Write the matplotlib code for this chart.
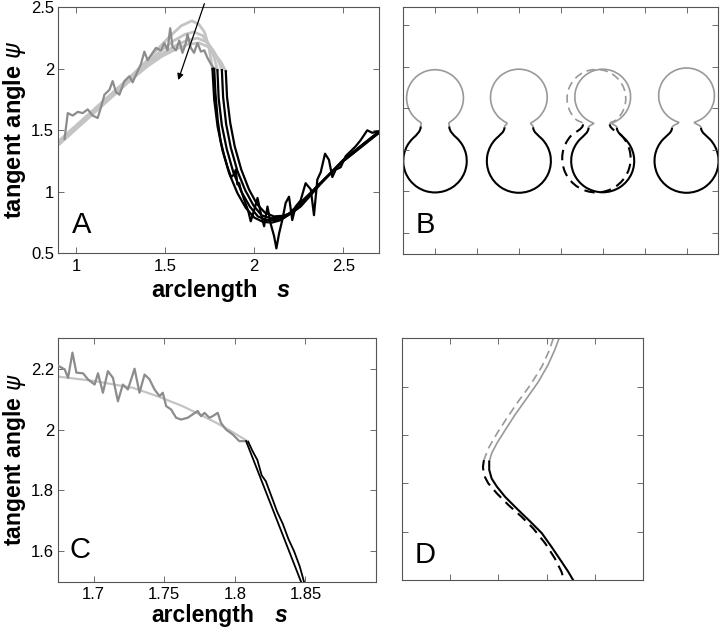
import numpy as np
import matplotlib.pyplot as plt
from matplotlib.path import Path
from matplotlib.patches import PathPatch

plt.rcParams['font.family'] = ['Liberation Sans', 'DejaVu Sans']

# ---------------- Panel A data ----------------
# smooth fits: gray part (upper bulb) then black part (lower bulb)
gray_fit_s = [
    [0.9, 1.0, 1.1, 1.2, 1.3, 1.4, 1.47, 1.53, 1.59, 1.65, 1.69, 1.72, 1.745, 1.765],
    [0.9, 1.0, 1.1, 1.2, 1.3, 1.4, 1.48, 1.55, 1.61, 1.66, 1.71, 1.75, 1.775, 1.793],
    [0.9, 1.0, 1.1, 1.2, 1.3, 1.4, 1.48, 1.56, 1.62, 1.68, 1.73, 1.77, 1.797, 1.818],
    [0.9, 1.0, 1.1, 1.2, 1.3, 1.4, 1.48, 1.56, 1.63, 1.69, 1.74, 1.78, 1.815, 1.84],
]
gray_fit_psi = [
    [1.41, 1.54, 1.67, 1.80, 1.93, 2.07, 2.18, 2.27, 2.35, 2.39, 2.36, 2.30, 2.18, 2.00],
    [1.40, 1.53, 1.66, 1.79, 1.92, 2.05, 2.15, 2.23, 2.28, 2.30, 2.27, 2.19, 2.09, 1.99],
    [1.39, 1.52, 1.65, 1.78, 1.91, 2.04, 2.12, 2.19, 2.23, 2.25, 2.22, 2.15, 2.07, 1.99],
    [1.38, 1.51, 1.64, 1.77, 1.90, 2.02, 2.10, 2.16, 2.20, 2.21, 2.18, 2.12, 2.05, 1.98],
]
black_fit_s = [
    [1.765, 1.775, 1.794, 1.821, 1.859, 1.905, 1.952, 2.0, 2.05, 2.1, 2.15, 2.2, 2.35, 2.5, 2.7],
    [1.793, 1.80, 1.818, 1.845, 1.882, 1.928, 1.975, 2.02, 2.07, 2.12, 2.17, 2.22, 2.35, 2.5, 2.7],
    [1.818, 1.825, 1.842, 1.868, 1.905, 1.95, 1.995, 2.04, 2.09, 2.14, 2.19, 2.24, 2.35, 2.5, 2.7],
    [1.84, 1.847, 1.865, 1.89, 1.927, 1.97, 2.015, 2.06, 2.11, 2.16, 2.21, 2.26, 2.37, 2.5, 2.7],
]
black_fit_psi = [
    [2.00, 1.75, 1.53, 1.34, 1.15, 0.99, 0.87, 0.79, 0.755, 0.75, 0.77, 0.83, 1.04, 1.25, 1.48],
    [1.99, 1.76, 1.54, 1.35, 1.16, 1.00, 0.88, 0.80, 0.77, 0.77, 0.79, 0.84, 1.04, 1.25, 1.48],
    [1.99, 1.77, 1.55, 1.36, 1.17, 1.01, 0.89, 0.81, 0.785, 0.79, 0.81, 0.86, 1.04, 1.26, 1.49],
    [1.98, 1.77, 1.56, 1.37, 1.18, 1.02, 0.90, 0.83, 0.80, 0.805, 0.83, 0.88, 1.06, 1.26, 1.49],
]

# measured (noisy) tangent angle
data_gray_s = [0.935, 0.953, 0.981, 1.009, 1.037, 1.065, 1.093, 1.121, 1.140, 1.159,
               1.187, 1.205, 1.224, 1.243, 1.271, 1.299, 1.317, 1.345, 1.364, 1.383,
               1.401, 1.429, 1.448, 1.476, 1.495, 1.513, 1.528, 1.541, 1.560, 1.579,
               1.597, 1.616, 1.625, 1.644, 1.662, 1.681, 1.700, 1.719, 1.737, 1.756, 1.775]
data_gray_psi = [1.43, 1.64, 1.62, 1.65, 1.64, 1.67, 1.62, 1.60, 1.69, 1.79,
                 1.83, 1.90, 1.81, 1.79, 1.90, 1.94, 1.89, 1.98, 2.04, 2.14,
                 2.07, 2.13, 2.17, 2.15, 2.21, 2.15, 2.33, 2.18, 2.15, 2.23,
                 2.13, 2.21, 2.28, 2.17, 2.13, 2.21, 2.14, 2.15, 2.09, 2.04, 2.00]
data_black_s = [1.775, 1.782, 1.795, 1.81, 1.83, 1.85, 1.87, 1.885, 1.896, 1.905,
                1.915, 1.924, 1.94, 1.952, 1.965, 1.98, 1.999, 2.018, 2.036, 2.055,
                2.074, 2.092, 2.111, 2.124, 2.139, 2.157, 2.176, 2.195, 2.213, 2.232,
                2.26, 2.288, 2.317, 2.335, 2.354, 2.373, 2.397, 2.419, 2.438, 2.457,
                2.485, 2.513, 2.541, 2.569, 2.597, 2.634, 2.662, 2.69]
data_black_psi = [2.00, 1.80, 1.58, 1.42, 1.30, 1.20, 1.12, 1.14, 1.18, 1.06,
                  1.07, 1.02, 0.95, 0.90, 0.85, 0.76, 0.85, 0.95, 0.83, 0.72,
                  0.88, 0.74, 0.64, 0.54, 0.66, 0.77, 0.91, 0.96, 0.77, 0.88,
                  0.93, 1.07, 1.02, 0.81, 1.10, 1.16, 1.31, 1.26, 1.12, 1.18,
                  1.20, 1.29, 1.33, 1.37, 1.42, 1.50, 1.48, 1.49]

# ---------------- Panel B data (shape outlines) ----------------
shape_cx = [1.0, 3.0, 5.0, 7.0]
shape_top_cy = [3.245, 3.26, 3.27, 3.30]
shape_top_r = [0.678, 0.676, 0.665, 0.665]
shape_neck_y = [2.56, 2.54, 2.53, 2.53]
shape_neck_hw = [0.341, 0.342, 0.338, 0.346]
shape_bot_cy = [1.731, 1.73, 1.73, 1.73]
shape_bot_r = [0.757, 0.764, 0.752, 0.764]
# dashed outline overlaid on the third shape
dash_shape = dict(cx=4.85, top_cy=3.23, top_r=0.70, neck_y=2.61,
                  neck_hw=0.32, bot_cy=1.79, bot_r=0.816)

# ---------------- Panel C data ----------------
c_data_s = [1.6752, 1.6795, 1.6819, 1.685, 1.6878, 1.6925, 1.696, 1.7007, 1.7031,
            1.7066, 1.7101, 1.7137, 1.7172, 1.7207, 1.7243, 1.729, 1.7325, 1.7361,
            1.7396, 1.7431, 1.7467, 1.749, 1.7514, 1.7549, 1.7584, 1.762, 1.7667,
            1.7702, 1.7737, 1.7761, 1.7785, 1.782, 1.7843, 1.7879, 1.7902, 1.7938,
            1.7985, 1.8032, 1.808]
c_data_psi = [2.209, 2.198, 2.170, 2.253, 2.187, 2.185, 2.165, 2.148, 2.185,
              2.121, 2.192, 2.170, 2.093, 2.148, 2.132, 2.200, 2.121, 2.181,
              2.165, 2.132, 2.110, 2.121, 2.077, 2.066, 2.039, 2.033, 2.039,
              2.050, 2.061, 2.044, 2.055, 2.039, 2.044, 2.055, 2.022, 2.000,
              1.984, 1.962, 1.962]
c_fit_s = [1.675, 1.70, 1.728, 1.745, 1.763, 1.775, 1.787, 1.798, 1.809]
c_fit_psi = [2.174, 2.16, 2.137, 2.11, 2.077, 2.05, 2.022, 1.993, 1.962]
c_black_fit_s = [1.808, 1.8469]
c_black_fit_psi = [1.962, 1.50]
c_black_data_s = [1.8095, 1.8125, 1.816, 1.819, 1.822, 1.826, 1.83, 1.834, 1.838,
                  1.842, 1.846, 1.849]
c_black_data_psi = [1.96, 1.93, 1.90, 1.85, 1.83, 1.78, 1.73, 1.69, 1.64, 1.60,
                    1.55, 1.50]

# ---------------- Panel D data (zoom on neck) ----------------
d_gray_x = [3.26, 3.17, 3.03, 2.83, 2.59, 2.34, 2.14, 1.97, 1.86, 1.81]
d_gray_y = [5.0, 4.76, 4.45, 4.10, 3.76, 3.41, 3.10, 2.83, 2.62, 2.45]
d_black_x = [1.81, 1.81, 1.86, 1.97, 2.14, 2.38, 2.66, 2.90, 3.10, 3.31, 3.45, 3.55]
d_black_y = [2.45, 2.28, 2.10, 1.93, 1.72, 1.48, 1.21, 0.97, 0.69, 0.38, 0.17, 0.0]
d_gray_dash_x = [3.14, 3.06, 2.90, 2.66, 2.41, 2.17, 1.97, 1.79, 1.70]
d_gray_dash_y = [5.0, 4.76, 4.41, 4.03, 3.69, 3.34, 3.03, 2.72, 2.48]
d_black_dash_x = [1.70, 1.68, 1.70, 1.79, 1.97, 2.21, 2.48, 2.72, 2.97, 3.17, 3.31, 3.36]
d_black_dash_y = [2.48, 2.34, 2.17, 2.00, 1.79, 1.55, 1.31, 1.07, 0.76, 0.45, 0.17, 0.0]

GRAY_FIT = '#c4c4c4'
GRAY_DATA = '#8c8c8c'
GRAY_SHAPE = '#999999'
DASH = (0, (5, 3))


def style_axes(ax):
    for sp in ax.spines.values():
        sp.set_color('#555555')
        sp.set_linewidth(0.8)
    ax.tick_params(direction='in', top=True, right=True, length=4, width=0.6,
                   color='#555555', labelsize=12)
    ax.tick_params(axis='x', pad=4)
    ax.tick_params(axis='y', pad=3)


def add_labels(ax, xbase, size=17):
    ax.text(0.455, xbase, 'arclength', transform=ax.transAxes, ha='center',
            va='baseline', fontsize=size, fontweight='bold')
    ax.text(0.70, xbase, 's', transform=ax.transAxes, ha='center',
            va='baseline', fontsize=size, fontweight='bold', style='italic')
    ax.text(-0.137, 0.5, 'tangent angle $\\psi$', transform=ax.transAxes,
            rotation=90, ha='center', va='center', fontsize=size,
            fontweight='bold')


def shape_path(cx, top_cy, top_r, neck_y, neck_hw, bot_cy, bot_r):
    """Gray (upper bulb) and black (lower bulb) outlines as bezier paths."""
    nr = np.array([cx + neck_hw, neck_y])
    nl = np.array([cx - neck_hw, neck_y])
    # upper bulb
    q = np.clip((neck_y + 0.12 - top_cy) / top_r, -0.95, 0.95)
    t = np.degrees(np.arcsin(q))
    arc = Path.arc(t, 180 - t)
    av = arc.vertices * top_r + [cx, top_cy]
    tr = np.array([-np.sin(np.radians(t)), np.cos(np.radians(t))])
    tl = np.array([-np.sin(np.radians(180 - t)), np.cos(np.radians(180 - t))])
    k, k2 = 0.07, 0.09
    verts = [nr, nr + [0, k], av[0] - k2 * tr, av[0]] + list(av[1:]) + \
        [av[-1] + k2 * tl, nl + [0, k], nl]
    codes = [Path.MOVETO] + [Path.CURVE4] * 3 + list(arc.codes[1:]) + [Path.CURVE4] * 3
    gray = Path(verts, codes)
    # lower bulb
    q = np.clip((neck_y - 0.28 - bot_cy) / bot_r, -0.95, 0.95)
    b = np.degrees(np.arcsin(q))
    arc = Path.arc(180 - b, 360 + b)
    bv = arc.vertices * bot_r + [cx, bot_cy]
    tl = np.array([-np.sin(np.radians(180 - b)), np.cos(np.radians(180 - b))])
    tr = np.array([-np.sin(np.radians(b)), np.cos(np.radians(b))])
    k, k2 = 0.12, 0.12
    verts = [nl, nl + [0, -k], bv[0] - k2 * tl, bv[0]] + list(bv[1:]) + \
        [bv[-1] + k2 * tr, nr + [0, -k], nr]
    codes = [Path.MOVETO] + [Path.CURVE4] * 3 + list(arc.codes[1:]) + [Path.CURVE4] * 3
    black = Path(verts, codes)
    return gray, black


fig = plt.figure(figsize=(7.2, 6.32), dpi=100)
axA = fig.add_axes([0.081, 0.5992, 0.4454, 0.3892])
axB = fig.add_axes([0.5597, 0.5981, 0.4375, 0.3908])
axC = fig.add_axes([0.081, 0.0796, 0.4412, 0.3851])
axD = fig.add_axes([0.5583, 0.0823, 0.3347, 0.3824])

# ---- A ----
for s, p in zip(gray_fit_s, gray_fit_psi):
    axA.plot(s, p, color=GRAY_FIT, lw=2.0, zorder=2)
axA.plot(data_gray_s, data_gray_psi, color=GRAY_DATA, lw=1.6, zorder=3)
for s, p in zip(black_fit_s, black_fit_psi):
    axA.plot(s, p, color='black', lw=1.6, zorder=3)
axA.plot(data_black_s, data_black_psi, color='black', lw=1.6, zorder=4)
axA.annotate('', xy=(1.573, 1.909), xytext=(1.72, 2.53),
             arrowprops=dict(arrowstyle='-|>', color='black', lw=0.9,
                             mutation_scale=9, shrinkA=0, shrinkB=0),
             annotation_clip=False, zorder=5)
axA.set_xlim(0.9, 2.7)
axA.set_ylim(0.5, 2.5)
axA.set_xticks([1, 1.5, 2, 2.5])
axA.set_xticklabels(['1', '1.5', '2', '2.5'])
axA.set_yticks([0.5, 1, 1.5, 2, 2.5])
axA.set_yticklabels(['0.5', '1', '1.5', '2', '2.5'])
style_axes(axA)
add_labels(axA, -0.178)
axA.text(0.074, 0.115, 'A', transform=axA.transAxes, ha='center',
         va='center', fontsize=21)

# ---- B ----
g, b = shape_path(dash_shape['cx'], dash_shape['top_cy'], dash_shape['top_r'],
                  dash_shape['neck_y'], dash_shape['neck_hw'],
                  dash_shape['bot_cy'], dash_shape['bot_r'])
axB.add_patch(PathPatch(g, fill=False, edgecolor=GRAY_SHAPE, lw=1.2, linestyle=DASH))
axB.add_patch(PathPatch(b, fill=False, edgecolor='black', lw=1.5, linestyle=DASH))
for i in range(len(shape_cx)):
    g, b = shape_path(shape_cx[i], shape_top_cy[i], shape_top_r[i],
                      shape_neck_y[i], shape_neck_hw[i], shape_bot_cy[i],
                      shape_bot_r[i])
    axB.add_patch(PathPatch(g, fill=False, edgecolor=GRAY_SHAPE, lw=1.2))
    axB.add_patch(PathPatch(b, fill=False, edgecolor='black', lw=1.5))
axB.set_xlim(0.236, 7.75)
axB.set_ylim(-0.505, 5.43)
axB.set_xticks(range(1, 8))
axB.set_yticks(range(0, 6))
axB.set_xticklabels([])
axB.set_yticklabels([])
style_axes(axB)
axB.text(0.07, 0.117, 'B', transform=axB.transAxes, ha='center',
         va='center', fontsize=21)

# ---- C ----
axC.plot(c_fit_s, c_fit_psi, color=GRAY_FIT, lw=1.6, zorder=2)
axC.plot(c_data_s, c_data_psi, color=GRAY_DATA, lw=1.6, zorder=3)
axC.plot(c_black_fit_s, c_black_fit_psi, color='black', lw=1.3, zorder=4)
axC.plot(c_black_data_s, c_black_data_psi, color='black', lw=1.3, zorder=4)
axC.set_xlim(1.675, 1.9)
axC.set_ylim(1.5, 2.3)
axC.set_xticks([1.7, 1.75, 1.8, 1.85])
axC.set_xticklabels(['1.7', '1.75', '1.8', '1.85'])
axC.set_yticks([1.6, 1.8, 2.0, 2.2])
axC.set_yticklabels(['1.6', '1.8', '2', '2.2'])
style_axes(axC)
add_labels(axC, -0.165, size=16.5)
axC.text(0.068, 0.13, 'C', transform=axC.transAxes, ha='center',
         va='center', fontsize=21)

# ---- D ----
axD.plot(d_gray_dash_x, d_gray_dash_y, color=GRAY_SHAPE, lw=1.2, linestyle=DASH)
axD.plot(d_black_dash_x, d_black_dash_y, color='black', lw=1.5, linestyle=DASH)
axD.plot(d_gray_x, d_gray_y, color=GRAY_SHAPE, lw=1.2)
axD.plot(d_black_x, d_black_y, color='black', lw=1.5)
axD.set_xlim(0, 5)
axD.set_ylim(0, 5)
axD.set_xticks(range(1, 5))
axD.set_yticks(range(1, 5))
axD.set_xticklabels([])
axD.set_yticklabels([])
style_axes(axD)
axD.text(0.095, 0.103, 'D', transform=axD.transAxes, ha='center',
         va='center', fontsize=21)

fig.savefig('out.png', dpi=100)
plt.close(fig)
